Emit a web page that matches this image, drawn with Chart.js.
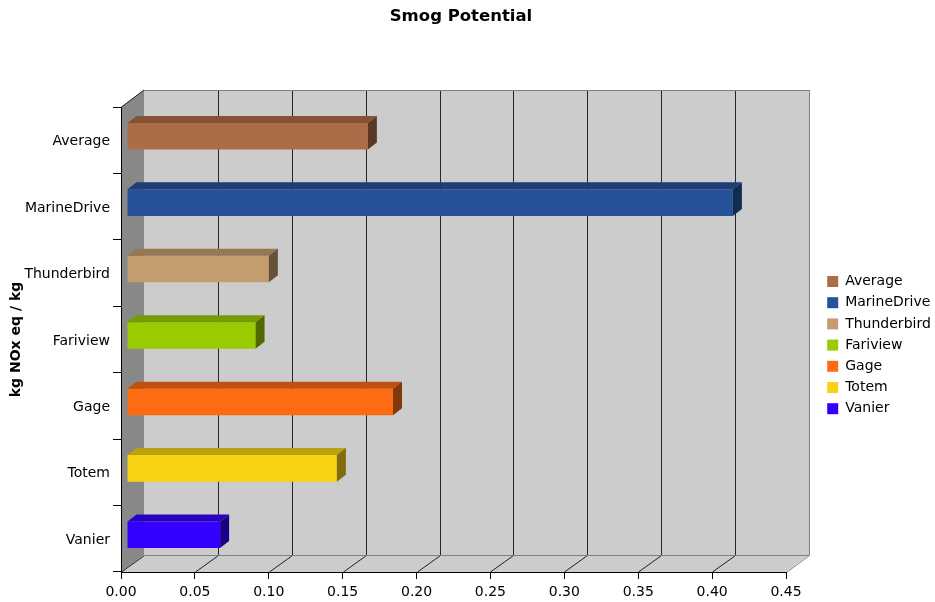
<!DOCTYPE html>
<html>
<head>
<meta charset="utf-8">
<script src="https://cdn.jsdelivr.net/npm/chart.js@4"></script>
<style>
  html, body { margin: 0; padding: 0; background: #ffffff; }
  canvas { display: block; }
</style>
</head>
<body>
<canvas id="chart" width="935" height="602"></canvas>
<script>
// Smog potential per site (kg NOx eq / kg)
const categories = ['Average', 'MarineDrive', 'Thunderbird', 'Fariview', 'Gage', 'Totem', 'Vanier'];
const smogPotential = [0.163, 0.410, 0.096, 0.087, 0.180, 0.142, 0.063];
const barColors = ['#ad6c48', '#27529a', '#c59c6e', '#99cc00', '#fd6b13', '#f8d313', '#3300ff'];
const xTickLabels = ['0.00', '0.05', '0.10', '0.15', '0.20', '0.25', '0.30', '0.35', '0.40', '0.45'];

// 3D box geometry (pixels)
const WALL_DX = 23, WALL_DY = -17;   // depth of the back wall
const BAR_DX = 6, BAR_DY = -4;       // bar front face sits a little into the box
const BAR_DEPTH_X = 9, BAR_DEPTH_Y = -7;

Chart.defaults.font.family = '"DejaVu Sans", Verdana, sans-serif';
Chart.defaults.color = '#000000';

function shade(hex, f) {
  const n = parseInt(hex.slice(1), 16);
  const r = Math.round(((n >> 16) & 255) * f);
  const g = Math.round(((n >> 8) & 255) * f);
  const b = Math.round((n & 255) * f);
  return `rgb(${r},${g},${b})`;
}

function poly(ctx, pts) {
  ctx.beginPath();
  ctx.moveTo(pts[0][0], pts[0][1]);
  for (let i = 1; i < pts.length; i++) ctx.lineTo(pts[i][0], pts[i][1]);
  ctx.closePath();
}

function seg(ctx, x1, y1, x2, y2, color) {
  ctx.beginPath();
  ctx.strokeStyle = color;
  ctx.lineWidth = 1;
  ctx.moveTo(x1, y1);
  ctx.lineTo(x2, y2);
  ctx.stroke();
}

// Walls, floor and grid of the 3D box, drawn beneath the axes
const box3d = {
  id: 'box3d',
  beforeDraw(chart) {
    const { ctx, chartArea: a, scales: { x } } = chart;
    const L = a.left, R = a.right, T = a.top, B = a.bottom;
    ctx.save();
    ctx.fillStyle = '#cccccc';
    ctx.fillRect(L + WALL_DX, T + WALL_DY, R - L, B - T);
    poly(ctx, [[L, B], [R, B], [R + WALL_DX, B + WALL_DY], [L + WALL_DX, B + WALL_DY]]);
    ctx.fill();
    ctx.fillStyle = '#888888';
    poly(ctx, [[L, T], [L + WALL_DX, T + WALL_DY], [L + WALL_DX, B + WALL_DY], [L, B]]);
    ctx.fill();

    const max = x.max;
    x.ticks.forEach(t => {
      const px = Math.round(x.getPixelForValue(t.value)) + 0.5;
      if (t.value > 1e-9 && t.value < max - 1e-9) {
        seg(ctx, px + WALL_DX, T + WALL_DY, px + WALL_DX, B + WALL_DY, '#262626');
      }
      if (t.value < max - 1e-9) {
        seg(ctx, px, B, px + WALL_DX, B + WALL_DY + 0.5, '#202020');
      }
    });
    // box edges
    const rr = Math.round(R) + 0.5;
    seg(ctx, L + WALL_DX, T + WALL_DY + 0.5, rr + WALL_DX, T + WALL_DY + 0.5, '#808080');
    seg(ctx, rr + WALL_DX, T + WALL_DY, rr + WALL_DX, B + WALL_DY, '#808080');
    seg(ctx, L + WALL_DX, B + WALL_DY + 0.5, rr + WALL_DX, B + WALL_DY + 0.5, '#808080');
    seg(ctx, rr, B + 0.5, rr + WALL_DX, B + WALL_DY + 0.5, '#808080');
    seg(ctx, L + 0.5, T, L + WALL_DX, T + WALL_DY, '#202020');
    ctx.restore();
  },
  beforeDatasetsDraw(chart) {
    chart.ctx.save();
    chart.ctx.translate(BAR_DX, BAR_DY);
  },
  afterDatasetsDraw(chart) {
    const ctx = chart.ctx;
    ctx.restore();
    const meta = chart.getDatasetMeta(0);
    ctx.save();
    meta.data.forEach((bar, i) => {
      const p = bar.getProps(['x', 'y', 'base', 'height'], true);
      const l = Math.min(p.base, p.x) + BAR_DX;
      const r = Math.max(p.base, p.x) + BAR_DX;
      const t = p.y - p.height / 2 + BAR_DY;
      const b = p.y + p.height / 2 + BAR_DY;
      const c = barColors[i];
      ctx.fillStyle = shade(c, 0.76);
      poly(ctx, [[l, t], [r, t], [r + BAR_DEPTH_X, t + BAR_DEPTH_Y], [l + BAR_DEPTH_X, t + BAR_DEPTH_Y]]);
      ctx.fill();
      ctx.fillStyle = shade(c, 0.52);
      poly(ctx, [[r, t], [r + BAR_DEPTH_X, t + BAR_DEPTH_Y], [r + BAR_DEPTH_X, b + BAR_DEPTH_Y], [r, b]]);
      ctx.fill();
    });
    ctx.restore();
  }
};

new Chart(document.getElementById('chart'), {
  type: 'bar',
  data: {
    labels: categories,
    datasets: [{
      label: 'Smog Potential',
      data: smogPotential,
      backgroundColor: barColors,
      borderWidth: 0,
      categoryPercentage: 1.0,
      barPercentage: 0.4,
      xAxisID: 'x',
      yAxisID: 'y'
    }]
  },
  options: {
    indexAxis: 'y',
    responsive: false,
    animation: false,
    devicePixelRatio: 1,
    layout: { padding: { left: -13, top: 0, right: 0, bottom: 0 } },
    plugins: {
      title: {
        display: true,
        text: 'Smog Potential',
        color: '#000000',
        font: { size: 16.5, weight: 'bold' },
        padding: { top: 7, bottom: 80.2 }
      },
      legend: {
        display: true,
        position: 'right',
        fullSize: false,
        maxWidth: 115,
        title: { display: true, text: '', padding: { top: 4, bottom: 0 }, font: { size: 6 } },
        labels: {
          boxWidth: 11,
          boxHeight: 11,
          padding: 7.2,
          color: '#000000',
          font: { size: 14 },
          generateLabels: (chart) => chart.data.labels.map((label, i) => ({
            text: label,
            fillStyle: barColors[i],
            strokeStyle: barColors[i],
            lineWidth: 0,
            hidden: false,
            index: i
          }))
        }
      },
      tooltip: { enabled: false }
    },
    scales: {
      x: {
        type: 'linear',
        position: 'bottom',
        min: 0,
        max: 0.45,
        afterFit: (s) => { s.height = 30; },
        grid: { drawOnChartArea: false, drawTicks: true, tickLength: 7, color: '#000000' },
        border: { display: true, color: '#000000', width: 1 },
        ticks: {
          stepSize: 0.05,
          padding: 5,
          color: '#000000',
          font: { size: 14 },
          maxRotation: 0,
          callback: (v, i) => xTickLabels[i]
        }
      },
      y: {
        type: 'category',
        position: 'left',
        afterFit: (s) => { s.width = 134; },
        grid: { offset: true, drawOnChartArea: false, drawTicks: true, tickLength: 8, color: '#000000' },
        border: { display: true, color: '#000000', width: 1 },
        ticks: { padding: 3, labelOffset: 1.5, color: '#000000', font: { size: 14 } },
        title: {
          display: true,
          text: 'kg NOx eq / kg',
          color: '#000000',
          font: { size: 14, weight: 'bold' },
          padding: { top: 21, bottom: 0 }
        }
      },
      gap: {
        type: 'linear',
        axis: 'y',
        position: 'right',
        display: true,
        afterFit: (s) => { s.width = 34; },
        grid: { display: false },
        border: { display: false },
        ticks: { display: false }
      }
    }
  },
  plugins: [box3d]
});
</script>
</body>
</html>
